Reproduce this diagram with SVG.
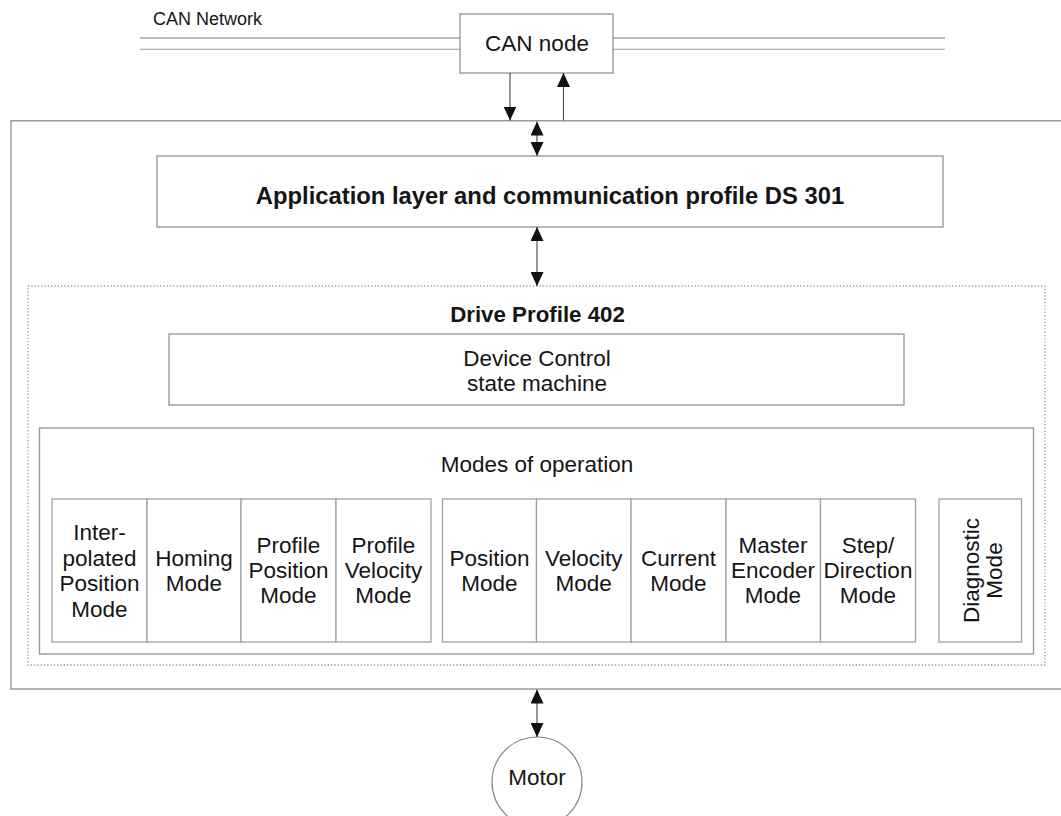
<svg xmlns="http://www.w3.org/2000/svg" width="1061" height="816" viewBox="0 0 1061 816">
<defs>
<marker id="ah" markerUnits="userSpaceOnUse" markerWidth="14" markerHeight="13" refX="14" refY="6.5" orient="auto-start-reverse" viewBox="0 0 14 13">
<path d="M0,0 L14,6.5 L0,13 z" fill="#111"/>
</marker>
<style>
text{font-family:"Liberation Sans",Arial,sans-serif;fill:#151515;}
.t{font-size:22.5px;text-anchor:middle;}
.b{font-weight:bold;text-anchor:middle;}
.box{fill:#fff;stroke:#999;stroke-width:1.4;}
.cell{fill:#fff;stroke:#a0a0a0;stroke-width:1.3;}
.con{stroke:#444;stroke-width:1.1;fill:none;}
</style>
</defs>
<rect width="1061" height="816" fill="#fff"/>

<g id="can-network">
<line x1="140" y1="38" x2="945" y2="38" stroke="#bbb" stroke-width="2.2"/>
<line x1="140" y1="49.3" x2="945" y2="49.3" stroke="#999" stroke-width="1.1"/>
<text x="153" y="25" style="font-size:18px">CAN Network</text>
</g>

<g id="can-node">
<rect class="box" x="460" y="14" width="153" height="59"/>
<text class="t" x="537" y="51">CAN node</text>
</g>

<g id="device-frame">
<path d="M1062,120.7 H11 V689 H1062" fill="none" stroke="#999" stroke-width="1.4"/>
</g>

<g id="application-layer">
<rect class="box" x="157" y="156" width="786" height="71"/>
<text class="b" x="550" y="204" style="font-size:23.8px">Application layer and communication profile DS 301</text>
</g>

<g id="drive-profile">
<rect x="28" y="286" width="1017" height="379" fill="none" stroke="#999" stroke-width="1.3" stroke-dasharray="1.3 2"/>
<text class="b" x="537.5" y="322" style="font-size:22.3px">Drive Profile 402</text>
</g>

<g id="device-control">
<rect class="box" x="169" y="334" width="735" height="71"/>
<text class="t" x="537" y="366">Device Control</text>
<text class="t" x="537" y="391">state machine</text>
</g>

<g id="modes-of-operation">
<rect class="box" x="39.5" y="428" width="994" height="226"/>
<text class="t" x="537" y="472">Modes of operation</text>
</g>

<g id="mode-interpolated">
<rect class="cell" x="52" y="499" width="95" height="143"/>
<text class="t" x="99.5" y="540">Inter-</text>
<text class="t" x="99.5" y="565.5">polated</text>
<text class="t" x="99.5" y="591">Position</text>
<text class="t" x="99.5" y="616.5">Mode</text>
</g>
<g id="mode-homing">
<rect class="cell" x="147" y="499" width="94" height="143"/>
<text class="t" x="194" y="565.5">Homing</text>
<text class="t" x="194" y="591">Mode</text>
</g>
<g id="mode-profile-position">
<rect class="cell" x="241" y="499" width="95" height="143"/>
<text class="t" x="288.5" y="553">Profile</text>
<text class="t" x="288.5" y="578">Position</text>
<text class="t" x="288.5" y="603">Mode</text>
</g>
<g id="mode-profile-velocity">
<rect class="cell" x="336" y="499" width="95" height="143"/>
<text class="t" x="383.5" y="553">Profile</text>
<text class="t" x="383.5" y="578">Velocity</text>
<text class="t" x="383.5" y="603">Mode</text>
</g>

<g id="mode-position">
<rect class="cell" x="442.5" y="499" width="94" height="143"/>
<text class="t" x="489.5" y="565.5">Position</text>
<text class="t" x="489.5" y="591">Mode</text>
</g>
<g id="mode-velocity">
<rect class="cell" x="536.5" y="499" width="94.5" height="143"/>
<text class="t" x="583.7" y="565.5">Velocity</text>
<text class="t" x="583.7" y="591">Mode</text>
</g>
<g id="mode-current">
<rect class="cell" x="631" y="499" width="95" height="143"/>
<text class="t" x="678.5" y="565.5">Current</text>
<text class="t" x="678.5" y="591">Mode</text>
</g>
<g id="mode-master-encoder">
<rect class="cell" x="726" y="499" width="94.5" height="143"/>
<text class="t" x="773" y="553">Master</text>
<text class="t" x="773" y="578">Encoder</text>
<text class="t" x="773" y="603">Mode</text>
</g>
<g id="mode-step-direction">
<rect class="cell" x="820.5" y="499" width="95" height="143"/>
<text class="t" x="868" y="553">Step/</text>
<text class="t" x="868" y="578">Direction</text>
<text class="t" x="868" y="603">Mode</text>
</g>

<g id="mode-diagnostic">
<rect class="cell" x="939" y="499" width="82.5" height="143"/>
<g transform="translate(979,570.5) rotate(-90)">
<text class="t" x="0" y="0">Diagnostic</text>
<text class="t" x="0" y="23">Mode</text>
</g>
</g>

<g id="motor">
<circle cx="537" cy="782" r="45" fill="#fff" stroke="#888" stroke-width="1.2"/>
<text class="t" x="537" y="785">Motor</text>
</g>

<g id="connectors">
<line class="con" x1="510" y1="73" x2="510" y2="120.5" marker-end="url(#ah)"/>
<line class="con" x1="563.5" y1="120.5" x2="563.5" y2="73" marker-end="url(#ah)"/>
<line class="con" x1="537" y1="121.5" x2="537" y2="156" marker-start="url(#ah)" marker-end="url(#ah)"/>
<line class="con" x1="537" y1="227" x2="537" y2="286" marker-start="url(#ah)" marker-end="url(#ah)"/>
<line class="con" x1="537" y1="689.5" x2="537" y2="737" marker-start="url(#ah)" marker-end="url(#ah)"/>
</g>
</svg>
